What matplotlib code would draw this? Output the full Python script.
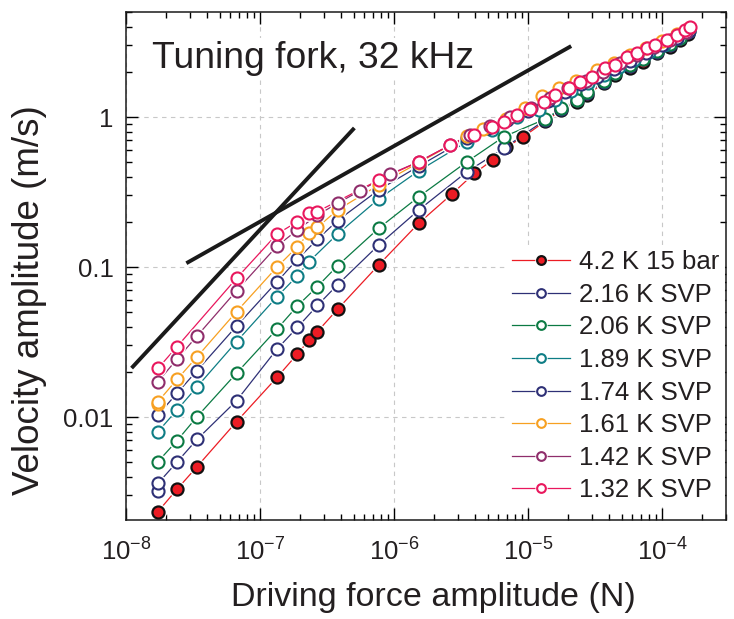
import numpy as np
import matplotlib
matplotlib.use("Agg")
import matplotlib.pyplot as plt
from matplotlib.legend_handler import HandlerTuple

plt.rcParams['font.family'] = ['Liberation Sans', 'DejaVu Sans']
plt.rcParams['mathtext.fontset'] = 'custom'
plt.rcParams['mathtext.rm'] = 'Liberation Sans'
plt.rcParams['mathtext.it'] = 'Liberation Sans'
plt.rcParams['mathtext.default'] = 'regular'

# data: force (N), velocity (m/s)
f_42 = [1.73e-8, 2.40e-8, 3.39e-8, 6.68e-8, 1.34e-7, 1.90e-7, 2.32e-7, 2.68e-7, 3.79e-7,
        7.67e-7, 1.53e-6, 2.71e-6, 3.97e-6, 5.45e-6, 6.85e-6, 9.12e-6, 1.35e-5, 1.77e-5,
        2.32e-5, 2.77e-5, 3.67e-5, 4.48e-5, 5.80e-5, 7.25e-5, 9.18e-5, 1.15e-4, 1.37e-4, 1.57e-4]
v_42 = [0.00234, 0.00330, 0.00467, 0.00931, 0.0184, 0.0263, 0.0326, 0.0371, 0.0523,
        0.103, 0.196, 0.307, 0.421, 0.517, 0.628, 0.732, 0.94, 1.11,
        1.26, 1.41, 1.68, 1.91, 2.12, 2.34, 2.66, 2.94, 3.26, 3.6]

f_216 = [1.73e-8, 1.73e-8, 2.40e-8, 3.39e-8, 6.68e-8, 1.34e-7, 1.90e-7, 2.68e-7, 3.79e-7,
         7.67e-7, 1.53e-6, 3.51e-6, 6.6e-6, 1.35e-5, 1.77e-5, 2.32e-5, 2.77e-5, 3.67e-5,
         4.48e-5, 5.80e-5, 7.25e-5, 9.18e-5, 1.15e-4, 1.37e-4, 1.57e-4]
v_216 = [0.00323, 0.00361, 0.00501, 0.0071, 0.01285, 0.0284, 0.0396, 0.0554, 0.0762,
         0.140, 0.240, 0.432, 0.618, 0.96, 1.13, 1.29, 1.44, 1.72,
         1.95, 2.18, 2.42, 2.72, 3.02, 3.34, 3.7]

f_206 = [1.73e-8, 2.40e-8, 3.39e-8, 6.68e-8, 1.34e-7, 1.90e-7, 2.68e-7, 3.79e-7,
         7.67e-7, 1.53e-6, 3.51e-6, 6.6e-6, 1.35e-5, 1.77e-5, 2.32e-5, 2.77e-5, 3.67e-5,
         4.48e-5, 5.80e-5, 7.25e-5, 9.18e-5, 1.15e-4, 1.37e-4, 1.57e-4]
v_206 = [0.00504, 0.00695, 0.01005, 0.0196, 0.0386, 0.055, 0.0741, 0.102,
         0.181, 0.294, 0.504, 0.739, 0.97, 1.14, 1.30, 1.46, 1.74,
         1.98, 2.22, 2.45, 2.76, 3.06, 3.38, 3.72]

f_189 = [1.73e-8, 2.40e-8, 3.39e-8, 6.68e-8, 1.34e-7, 1.90e-7, 2.32e-7, 3.79e-7,
         7.67e-7, 1.53e-6, 3.51e-6, 5.4e-6, 8.28e-6, 1.2e-5, 1.6e-5, 2.1e-5, 2.8e-5,
         3.7e-5, 4.8e-5, 6.2e-5, 8.0e-5, 1.03e-4, 1.3e-4, 1.6e-4]
v_189 = [0.00798, 0.01113, 0.0159, 0.0318, 0.0634, 0.0874, 0.1085, 0.166,
         0.284, 0.438, 0.685, 0.82, 1.0, 1.12, 1.3, 1.48, 1.68,
         1.92, 2.15, 2.4, 2.7, 3.0, 3.35, 3.75]

f_174 = [1.73e-8, 2.40e-8, 3.39e-8, 6.68e-8, 1.34e-7, 1.90e-7, 2.68e-7, 3.79e-7,
         7.67e-7, 1.53e-6, 3.51e-6, 5.0e-6, 7.0e-6, 1.0e-5, 1.4e-5, 1.9e-5, 2.5e-5,
         3.3e-5, 4.4e-5, 5.8e-5, 7.6e-5, 1.0e-4, 1.3e-4, 1.6e-4]
v_174 = [0.0103, 0.0144, 0.0204, 0.0404, 0.0798, 0.1125, 0.153, 0.204,
         0.326, 0.47, 0.72, 0.84, 0.96, 1.1, 1.27, 1.46, 1.65,
         1.86, 2.1, 2.38, 2.66, 3.0, 3.36, 3.75]

f_161 = [1.73e-8, 1.73e-8, 2.40e-8, 3.39e-8, 6.68e-8, 1.34e-7, 1.90e-7, 2.32e-7, 2.68e-7,
         3.79e-7, 7.67e-7, 1.53e-6, 3.51e-6, 4.6e-6, 6.8e-6, 9.5e-6, 1.27e-5, 1.7e-5,
         2.3e-5, 3.3e-5, 4.4e-5, 5.8e-5, 7.6e-5, 1.0e-4, 1.3e-4, 1.6e-4]
v_161 = [0.0122, 0.01265, 0.0178, 0.0252, 0.0504, 0.100, 0.1365, 0.169, 0.184,
         0.24, 0.352, 0.496, 0.747, 0.83, 0.97, 1.15, 1.37, 1.55,
         1.75, 2.06, 2.3, 2.6, 2.9, 3.2, 3.55, 3.95]

f_142 = [1.73e-8, 2.40e-8, 3.39e-8, 6.68e-8, 1.34e-7, 1.90e-7, 2.68e-7, 3.79e-7,
         5.6e-7, 9.4e-7, 1.53e-6, 2.63e-6, 3.7e-6, 5.2e-6, 7.4e-6, 1.05e-5, 1.45e-5,
         2.0e-5, 2.7e-5, 3.6e-5, 4.9e-5, 6.5e-5, 8.7e-5, 1.15e-4, 1.5e-4]
v_142 = [0.0172, 0.0243, 0.0347, 0.0695, 0.138, 0.1765, 0.222, 0.266,
         0.323, 0.417, 0.503, 0.651, 0.76, 0.87, 1.0, 1.15, 1.33,
         1.55, 1.75, 2.0, 2.3, 2.6, 2.92, 3.25, 3.7]

f_132 = [1.73e-8, 2.40e-8, 6.68e-8, 1.34e-7, 1.90e-7, 2.32e-7, 2.68e-7, 7.67e-7,
         1.53e-6, 2.63e-6, 3.93e-6, 5.4e-6, 6.6e-6, 8.28e-6, 1.04e-5, 1.31e-5, 1.60e-5,
         2.01e-5, 2.46e-5, 3.0e-5, 3.78e-5, 4.48e-5, 5.48e-5, 6.5e-5, 7.73e-5, 8.9e-5,
         1.09e-4, 1.29e-4, 1.49e-4, 1.63e-4]
v_132 = [0.0211, 0.0294, 0.0841, 0.166, 0.2005, 0.2275, 0.234, 0.38,
         0.503, 0.651, 0.759, 0.861, 0.93, 1.03, 1.13, 1.25, 1.40,
         1.57, 1.72, 1.86, 2.11, 2.22, 2.52, 2.66, 2.87, 3.02,
         3.26, 3.52, 3.80, 4.0]

labels = ['4.2 K 15 bar', '2.16 K SVP', '2.06 K SVP', '1.89 K SVP',
          '1.74 K SVP', '1.61 K SVP', '1.42 K SVP', '1.32 K SVP']
colors = ['#ec1c24', '#2e3076', '#0b7a43', '#0e7d85',
          '#2e3076', '#f7a021', '#8f2d6b', '#e9175d']

# guide lines (slope 1 and slope 1/2)
fit1_f = [1.1e-8, 5.06e-7]
fit1_v = [0.0212, 0.845]
fit2_f = [2.82e-8, 2.1e-5]
fit2_v = [0.106, 2.97]

series_f = [f_42, f_216, f_206, f_189, f_174, f_161, f_142, f_132]
series_v = [v_42, v_216, v_206, v_189, v_174, v_161, v_142, v_132]

txt = '#231f20'
ms = 8.7
fig = plt.figure(figsize=(7.34, 6.19), dpi=100)
ax = fig.add_axes([0.1717, 0.16, 0.8173, 0.821])

handles = []
for i in range(len(labels)):
    ln, = ax.plot(series_f[i], series_v[i], '-', color=colors[i], lw=0.9, zorder=2)
    # white halo so the line stops short of each marker
    halo, = ax.plot(series_f[i], series_v[i], 'o', ls='none', ms=ms + 3.5,
                    mfc='white', mec='white', mew=0, zorder=3)
    if i == 0:
        mk, = ax.plot(series_f[i], series_v[i], 'o', ls='none', ms=ms,
                      mfc=colors[i], mec='#111111', mew=1.6, zorder=4)
    else:
        mk, = ax.plot(series_f[i], series_v[i], 'o', ls='none', ms=ms,
                      mfc='white', mec=colors[i], mew=1.5, zorder=4 + i)
    handles.append((ln, halo, mk))

ax.plot(fit1_f, fit1_v, color='#1a1a1a', lw=2.8, solid_capstyle='butt', zorder=15)
ax.plot(fit2_f, fit2_v, color='#1a1a1a', lw=2.8, solid_capstyle='butt', zorder=15)

ax.set_xscale('log')
ax.set_yscale('log')
ax.set_xlim(1e-8, 3.0e-4)
ax.set_ylim(0.00206, 5.03)

ax.set_yticks([0.01, 0.1, 1])
ax.set_yticklabels(['0.01', '0.1', '1'])
ax.set_xticks([1e-8, 1e-7, 1e-6, 1e-5, 1e-4])

ax.tick_params(which='both', direction='in', top=True, right=True,
               labelsize=18.5, labelcolor=txt, width=1.0)
ax.tick_params(which='major', length=8.5, pad=9)
ax.tick_params(axis='x', which='major', pad=13)
ax.tick_params(which='minor', length=4.5)
for s in ax.spines.values():
    s.set_linewidth(1.1)
    s.set_color('#1a1a1a')
    s.set_zorder(30)

ax.grid(True, which='major', ls=(0, (4, 4)), color='#c8c8c8', lw=0.8)
ax.set_axisbelow(True)

ax.set_xlabel('Driving force amplitude (N)', fontsize=24.5, color=txt)
ax.set_ylabel('Velocity amplitude (m/s)', fontsize=26.5, color=txt)
ax.xaxis.set_label_coords(0.513, -0.122)
ax.yaxis.set_label_coords(-0.132, 0.433)

ax.text(0.043, 0.89, 'Tuning fork, 32 kHz', transform=ax.transAxes,
        fontsize=26.8, color=txt, va='baseline', ha='left',
        bbox=dict(facecolor='white', edgecolor='none', pad=2), zorder=1.5)

leg = ax.legend(handles, labels, handler_map={tuple: HandlerTuple(ndivide=1)},
                loc='lower right', bbox_to_anchor=(1.0, 0.022), fontsize=18.5,
                frameon=True, framealpha=1, edgecolor='none', facecolor='white',
                labelspacing=0.335, handlelength=2.25, handletextpad=0.35,
                markerscale=0.72, borderpad=0.2, borderaxespad=0.05)
for t in leg.get_texts():
    t.set_color(txt)
leg.set_zorder(20)

fig.savefig('out.png', dpi=100)
